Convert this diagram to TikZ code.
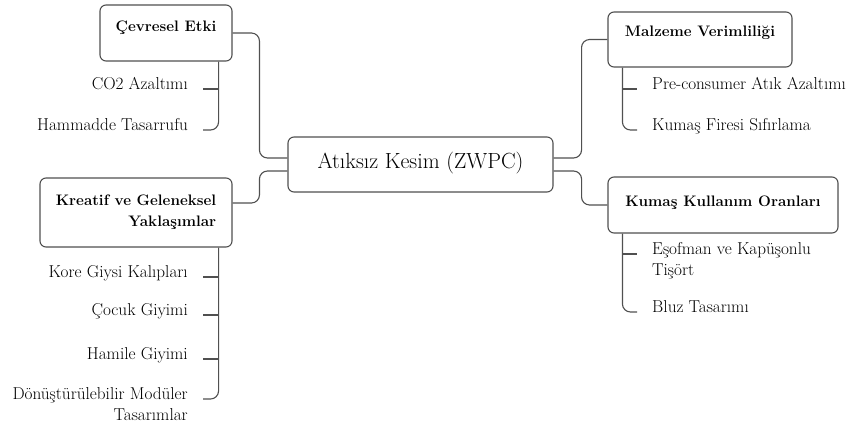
\documentclass[tikz,border=0pt]{standalone}
\definecolor{linegray}{HTML}{505050}
\begin{document}
\begin{tikzpicture}[x=1pt,y=-1pt,
  box/.style={draw=linegray, line width=1.1pt, rounded corners=6pt, fill=white,
    inner sep=3pt, text=black, font=\fontsize{15.2}{19}\selectfont\bfseries},
  oneline/.style={text height=12pt, text depth=#1},
  leaf/.style={inner sep=0pt, text=black, font=\fontsize{17.2}{21}\selectfont},
  leafone/.style={leaf, text height=12pt, text depth=4pt},
  conn/.style={draw=linegray, line width=1.1pt, rounded corners=8pt},
]
\useasboundingbox (0,0) rectangle (852,428);

% central topic
\node[box, font=\fontsize{21.9}{26}\selectfont, oneline=5pt,
      minimum width=265pt, minimum height=55pt] (core) at (420.5,164.5) {Atıksız Kesim (ZWPC)};

% main branches
\node[box, oneline=14pt, minimum width=132pt, minimum height=56pt] (cev) at (166,33) {Çevresel Etki};
\node[box, align=right, font=\fontsize{15.2}{21}\selectfont\bfseries,
      minimum width=192pt, minimum height=69pt] (kre) at (136,212.5)
  {Kreatif ve Geleneksel\\Yaklaşımlar};
\node[box, oneline=17pt, minimum width=184pt, minimum height=55pt] (mal) at (700,39.5) {Malzeme Verimliliği};
\node[box, oneline=10pt, minimum width=230pt, minimum height=56pt] (kum) at (723,205) {Kumaş Kullanım Oranları};

% leaves on the left
\node[leafone, anchor=east] (co2) at (188,85) {CO2 Azaltımı};
\node[leafone, anchor=east] (ham) at (188,126) {Hammadde Tasarrufu};
\node[leafone, anchor=east] (kore) at (188,273) {Kore Giysi Kalıpları};
\node[leafone, anchor=east] (cocuk) at (188,311) {Çocuk Giyimi};
\node[leafone, anchor=east] (hamile) at (188,355) {Hamile Giyimi};
\node[leaf, align=right, anchor=north east] (donus) at (188,387) {Dönüştürülebilir Modüler\\Tasarımlar};

% leaves on the right
\node[leafone, anchor=west] (pre) at (652,85) {Pre-consumer Atık Azaltımı};
\node[leafone, anchor=west] (kf) at (652,126) {Kumaş Firesi Sıfırlama};
\node[leaf, align=left, anchor=north west] (esof) at (652,242) {Eşofman ve Kapüşonlu\\Tişört};
\node[leafone, anchor=west] (bluz) at (652,308) {Bluz Tasarımı};

% connectors between the central topic and the branches
\draw[conn] ([yshift=6.5pt]core.west) -| ([xshift=-28pt]cev.east -| core.west) -- (cev.east);
\draw[conn] ([yshift=-6.5pt]core.west) -- ([xshift=-28pt,yshift=-6.5pt]core.west)
  |- ([yshift=9.5pt]kre.east);
\draw[conn] ([yshift=6.5pt]core.east) -- ([xshift=28pt,yshift=6.5pt]core.east) |- (mal.west);
\draw[conn] ([yshift=-6.5pt]core.east) -- ([xshift=28pt,yshift=-6.5pt]core.east) |- (kum.west);

% branch rails and ticks, left side
\draw[conn] ([xshift=-14pt]cev.south east) |- ([xshift=15pt,yshift=-4pt]ham.east);
\draw[conn] ([xshift=15pt,yshift=-4pt]co2.east) -- ++(15,0);
\draw[conn] ([xshift=-14pt]kre.south east) |- ([xshift=15pt,yshift=-12pt]donus.north east);
\draw[conn] ([xshift=15pt,yshift=-4pt]kore.east) -- ++(15,0);
\draw[conn] ([xshift=15pt,yshift=-4pt]cocuk.east) -- ++(15,0);
\draw[conn] ([xshift=15pt,yshift=-4pt]hamile.east) -- ++(15,0);

% branch rails and ticks, right side
\draw[conn] ([xshift=15pt]mal.south west) |- ([xshift=-15pt,yshift=-4pt]kf.west);
\draw[conn] ([xshift=-29pt,yshift=-4pt]pre.west) -- ++(14,0);
\draw[conn] ([xshift=15pt]kum.south west) |- ([xshift=-15pt,yshift=-4pt]bluz.west);
\draw[conn] ([xshift=-29pt,yshift=-12pt]esof.north west) -- ++(14,0);
\end{tikzpicture}
\end{document}
